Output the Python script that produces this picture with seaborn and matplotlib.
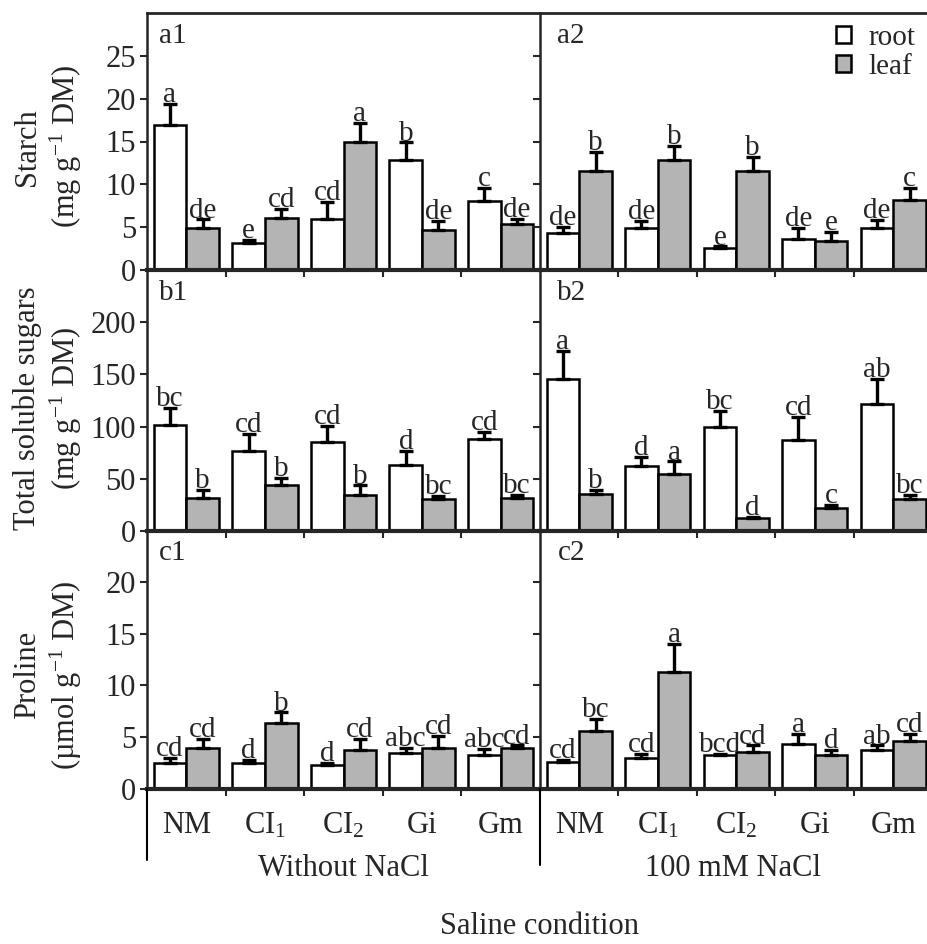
import pandas as pd
import numpy as np
import matplotlib
matplotlib.use("Agg")
import matplotlib.pyplot as plt
from matplotlib.lines import Line2D
from matplotlib.container import BarContainer
import seaborn as sns

# treatments on the x axis
treatments = ["NM", "CI$_1$", "CI$_2$", "Gi", "Gm"]
organs = ["root", "leaf"]

# Starch (mg g-1 DM)
st_wo_root = [16.9, 3.2, 6.0, 12.8, 8.0]
st_wo_root_err = [2.5, 0.3, 1.9, 2.1, 1.6]
st_wo_leaf = [4.9, 6.1, 15.0, 4.7, 5.4]
st_wo_leaf_err = [1.0, 1.0, 2.2, 1.0, 0.6]
st_wo_root_sig = ["a", "e", "cd", "b", "c"]
st_wo_leaf_sig = ["de", "cd", "a", "de", "de"]

st_na_root = [4.3, 4.9, 2.6, 3.6, 4.9]
st_na_root_err = [0.7, 0.8, 0.15, 1.3, 0.9]
st_na_leaf = [11.5, 12.8, 11.5, 3.4, 8.2]
st_na_leaf_err = [2.3, 1.7, 1.7, 1.0, 1.4]
st_na_root_sig = ["de", "de", "e", "de", "de"]
st_na_leaf_sig = ["b", "b", "b", "e", "c"]

# Total soluble sugars (mg g-1 DM)
su_wo_root = [102, 76.7, 85, 63, 88]
su_wo_root_err = [16, 16, 15.5, 14, 7]
su_wo_leaf = [32, 43.7, 34.7, 30.2, 32]
su_wo_leaf_err = [7.5, 7, 9, 3.5, 2.7]
su_wo_root_sig = ["bc", "cd", "cd", "d", "cd"]
su_wo_leaf_sig = ["b", "b", "b", "bc", "bc"]

su_na_root = [146, 62.3, 99.5, 87, 121.3]
su_na_root_err = [26.7, 8.7, 15.7, 22, 24.7]
su_na_leaf = [35, 54.6, 12.8, 22.5, 30.5]
su_na_leaf_err = [4.5, 12, 1, 2.2, 4]
su_na_root_sig = ["a", "d", "bc", "cd", "ab"]
su_na_leaf_sig = ["b", "a", "d", "c", "bc"]

# Proline (umol g-1 DM)
pr_wo_root = [2.5, 2.5, 2.3, 3.5, 3.3]
pr_wo_root_err = [0.5, 0.3, 0.2, 0.5, 0.6]
pr_wo_leaf = [4.0, 6.4, 3.8, 4.0, 4.0]
pr_wo_leaf_err = [0.8, 1.0, 1.0, 1.1, 0.2]
pr_wo_root_sig = ["cd", "d", "d", "abc", "abc"]
pr_wo_leaf_sig = ["cd", "b", "cd", "cd", "cd"]

pr_na_root = [2.6, 3.0, 3.3, 4.35, 3.8]
pr_na_root_err = [0.2, 0.4, 0.1, 1.0, 0.4]
pr_na_leaf = [5.6, 11.3, 3.6, 3.3, 4.6]
pr_na_leaf_err = [1.2, 2.7, 0.6, 0.5, 0.75]
pr_na_root_sig = ["cd", "cd", "bcd", "a", "ab"]
pr_na_leaf_sig = ["bc", "a", "cd", "d", "cd"]

sns.set_style("ticks")
plt.rcParams["font.family"] = ["Liberation Serif", "DejaVu Serif"]
plt.rcParams["mathtext.fontset"] = "custom"
plt.rcParams["mathtext.rm"] = "Liberation Serif"
plt.rcParams["mathtext.it"] = "Liberation Serif:italic"
plt.rcParams["mathtext.bf"] = "Liberation Serif:bold"

W, H = 927, 944
fig = plt.figure(figsize=(W / 100, H / 100), dpi=100)


def px_axes(x0, x1, ytop, ybot):
    return fig.add_axes([x0 / W, 1 - ybot / H, (x1 - x0) / W, (ybot - ytop) / H])


def draw_panel(ax, root, root_err, leaf, leaf_err, root_sig, leaf_sig, show_legend=False):
    df = pd.DataFrame({
        "treatment": treatments * 2,
        "organ": ["root"] * 5 + ["leaf"] * 5,
        "value": list(root) + list(leaf),
    })
    sns.barplot(data=df, x="treatment", y="value", hue="organ",
                order=treatments, hue_order=organs,
                palette={"root": "white", "leaf": "#b4b4b4"},
                edgecolor="black", linewidth=1.8, width=0.83,
                errorbar=None, legend=show_legend, ax=ax)
    errs = [root_err, leaf_err]
    sigs = [root_sig, leaf_sig]
    bar_groups = [cn for cn in ax.containers if isinstance(cn, BarContainer)]
    for k, cont in enumerate(bar_groups):
        for i, bar in enumerate(cont):
            xc = bar.get_x() + bar.get_width() / 2
            h = bar.get_height()
            e = errs[k][i]
            ax.errorbar(xc, h, yerr=[[0], [e]], fmt="none", ecolor="black",
                        elinewidth=2.4, capsize=5, capthick=2.4, zorder=3)
            ax.annotate(sigs[k][i], (xc, h + e), xytext=(0, -3),
                        textcoords="offset points", ha="center", va="bottom",
                        fontsize=21, zorder=4)
    ax.set_xlabel("")
    ax.set_ylabel("")
    if show_legend:
        handles, labels = ax.get_legend_handles_labels()
        ax.legend(handles, labels, loc="upper right", frameon=False, fontsize=21,
                  handlelength=0.5, handleheight=0.5, handletextpad=0.6,
                  labelspacing=0.1, borderaxespad=0.2, borderpad=0.2)


rows = [
    (13, 270, (0, 30), [0, 5, 10, 15, 20, 25], "Starch\n(mg g$^{-1}$ DM)", 0.48, ["a1", "a2"]),
    (270, 531, (0, 250), [0, 50, 100, 150, 200], "Total soluble sugars\n(mg g$^{-1}$ DM)", 0.47, ["b1", "b2"]),
    (530, 789, (0, 25), [0, 5, 10, 15, 20], "Proline\n(µmol g$^{-1}$ DM)", 0.44, ["c1", "c2"]),
]
panel_data = [
    [(st_wo_root, st_wo_root_err, st_wo_leaf, st_wo_leaf_err, st_wo_root_sig, st_wo_leaf_sig),
     (st_na_root, st_na_root_err, st_na_leaf, st_na_leaf_err, st_na_root_sig, st_na_leaf_sig)],
    [(su_wo_root, su_wo_root_err, su_wo_leaf, su_wo_leaf_err, su_wo_root_sig, su_wo_leaf_sig),
     (su_na_root, su_na_root_err, su_na_leaf, su_na_leaf_err, su_na_root_sig, su_na_leaf_sig)],
    [(pr_wo_root, pr_wo_root_err, pr_wo_leaf, pr_wo_leaf_err, pr_wo_root_sig, pr_wo_leaf_sig),
     (pr_na_root, pr_na_root_err, pr_na_leaf, pr_na_leaf_err, pr_na_root_sig, pr_na_leaf_sig)],
]
cols = [(147, 540, (-0.5, 4.5)), (540, 927, (-0.5, 4.43))]

for r, (ytop, ybot, ylim, yticks, ylab, ylab_y, tags) in enumerate(rows):
    for c, (x0, x1, xlim) in enumerate(cols):
        ax = px_axes(x0, x1, ytop, ybot)
        draw_panel(ax, *panel_data[r][c], show_legend=(r == 0 and c == 1))
        ax.set_ylim(*ylim)
        ax.set_xlim(*xlim)
        ax.set_yticks(yticks)
        ax.set_xticks([0.5, 1.5, 2.5, 3.5])
        ax.set_xticklabels([])
        ax.set_xticks(range(5), minor=True)
        if r == 2:
            ax.set_xticklabels(treatments, minor=True, fontsize=22)
        else:
            ax.set_xticklabels([""] * 5, minor=True)
        ax.tick_params(axis="x", which="minor", length=0, pad=16)
        ax.tick_params(axis="x", which="major", length=5, width=1.5, direction="out")
        ax.tick_params(axis="y", length=5, width=1.5, direction="out", labelsize=22, pad=3)
        ax.patch.set_alpha(0)
        ax.spines["right"].set_visible(False)
        ax.spines["top"].set_visible(r == 0)
        ax.spines["top"].set_linewidth(2)
        ax.spines["bottom"].set_linewidth(3)
        ax.spines["left"].set_linewidth(1.8)
        if c == 0:
            ax.set_ylabel(ylab, fontsize=22, linespacing=1.2)
            ax.yaxis.set_label_coords(-0.16, ylab_y)
        else:
            ax.tick_params(axis="y", labelleft=False)
        ax.text(0.03 if c == 0 else 0.045, 0.96, tags[c], transform=ax.transAxes,
                ha="left", va="top", fontsize=21)

# dividers that run down into the label area
fig.add_artist(Line2D([147 / W, 147 / W], [1 - 789 / H, 1 - 860 / H],
                      transform=fig.transFigure, color="black", lw=1.5))
fig.add_artist(Line2D([540 / W, 540 / W], [1 - 789 / H, 1 - 865 / H],
                      transform=fig.transFigure, color="black", lw=1.5))

fig.text(343 / W, 1 - 869 / H, "Without NaCl", ha="center", va="center", fontsize=22)
fig.text(733 / W, 1 - 869 / H, "100 mM NaCl", ha="center", va="center", fontsize=22)
fig.text(540 / W, 1 - 926 / H, "Saline condition", ha="center", va="center", fontsize=22)

fig.savefig("out.png", dpi=100)
